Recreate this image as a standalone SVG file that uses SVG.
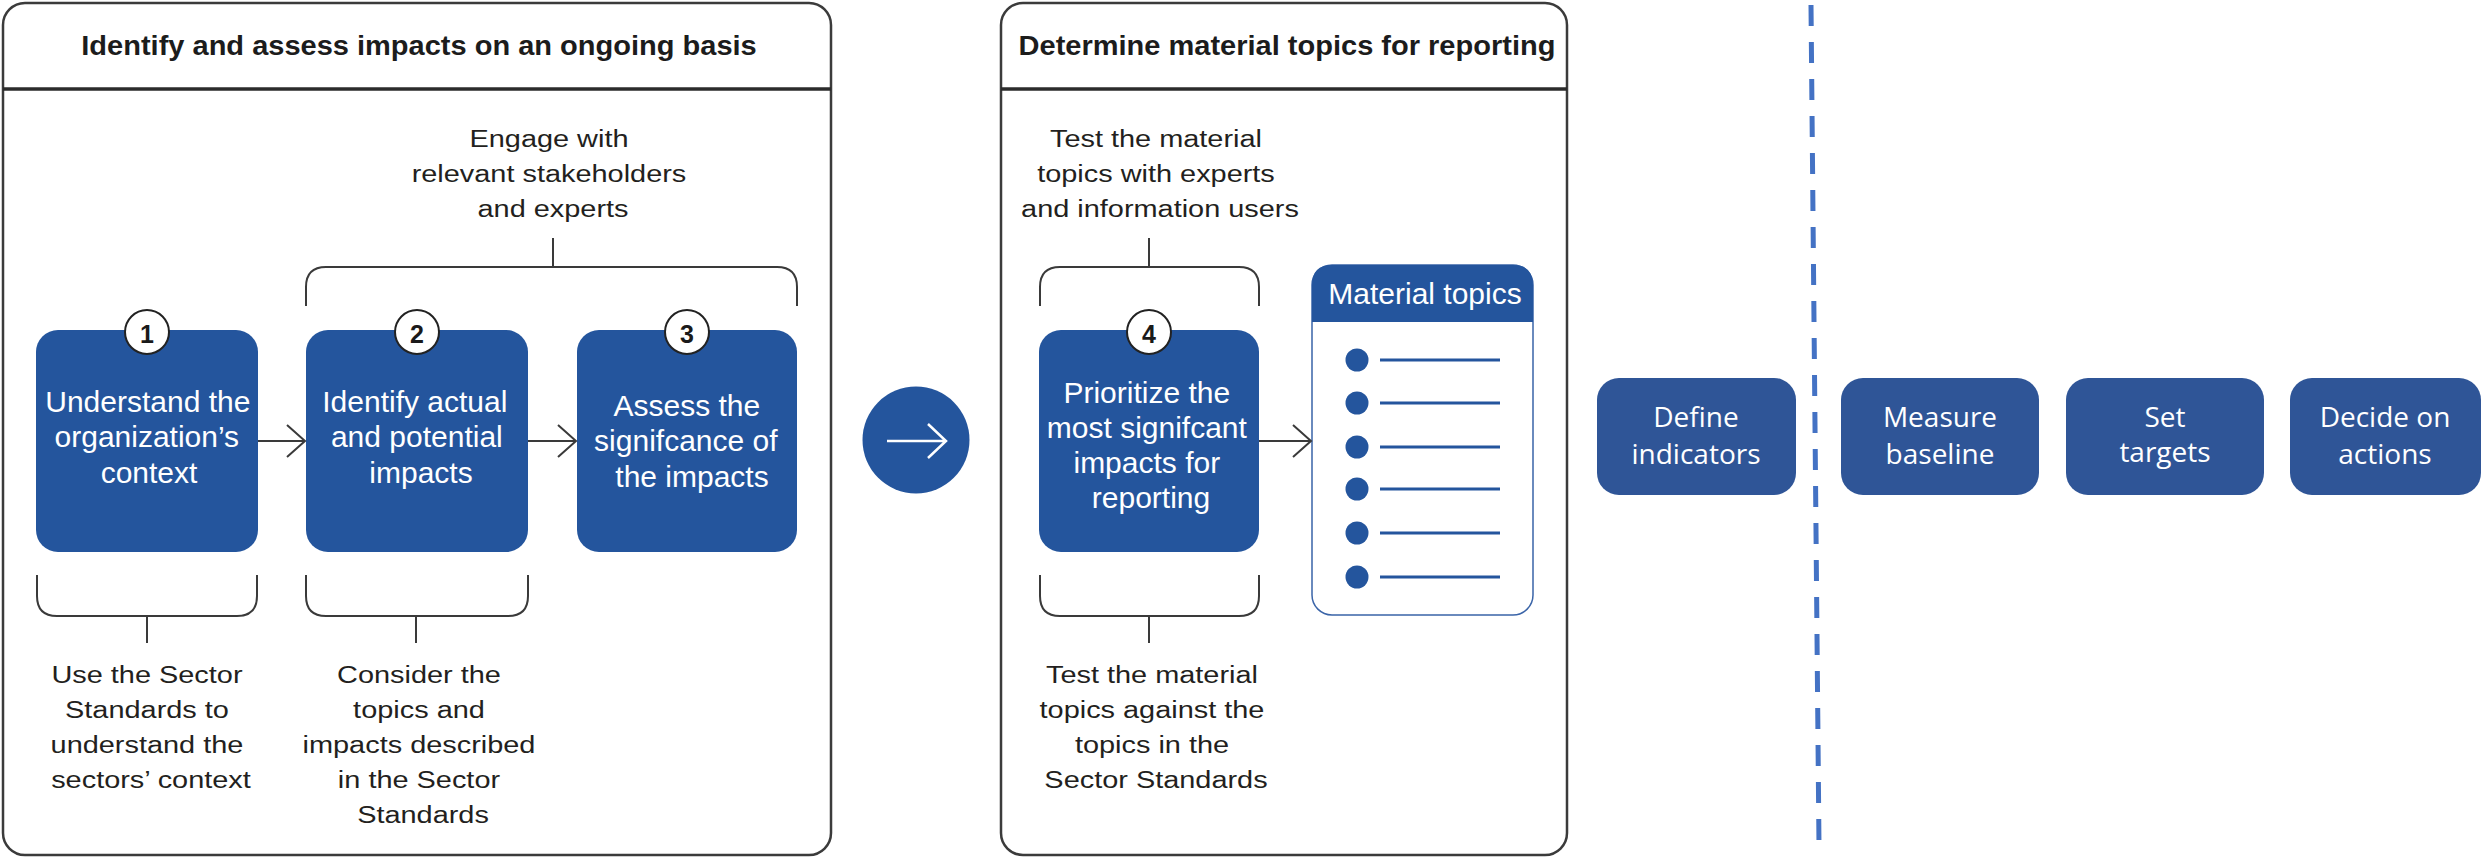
<svg xmlns="http://www.w3.org/2000/svg" width="2483" height="857" viewBox="0 0 2483 857">
  <style>
    .panel { fill: #ffffff; stroke: #3b3b3b; stroke-width: 2.5; }
    .rule { stroke: #2b2b2b; stroke-width: 3.5; }
    .title { font-family: "Liberation Sans", Arial, sans-serif; font-weight: bold; font-size: 27px; fill: #1c1c1c; text-anchor: middle; }
    .cap { font-family: "Liberation Sans", Arial, sans-serif; font-size: 24.5px; fill: #231f20; text-anchor: middle; }
    .step { fill: #24559d; }
    .steptxt { font-family: "Liberation Sans", Arial, sans-serif; font-size: 30px; fill: #ffffff; text-anchor: middle; }
    .num { fill: #ffffff; stroke: #222222; stroke-width: 2; }
    .numtxt { font-family: "Liberation Sans", Arial, sans-serif; font-weight: bold; font-size: 25px; fill: #1a1a1a; text-anchor: middle; }
    .brace { fill: none; stroke: #3a3a3a; stroke-width: 2; }
    .link { fill: none; stroke: #3a3a3a; stroke-width: 2; }
    .bullet { fill: #24559d; }
    .bline { stroke: #24559d; stroke-width: 3; }
    .act { fill: #2f5597; }
    .acttxt { font-family: "Open Sans", "Noto Sans", sans-serif; font-size: 28px; fill: #ffffff; text-anchor: middle; }
  </style>
  <defs>
    <marker id="chev" markerUnits="userSpaceOnUse" markerWidth="24" markerHeight="36" refX="21" refY="18" orient="auto">
      <path d="M3,2 L21,18 L3,34" fill="none" stroke="#3a3a3a" stroke-width="2"/>
    </marker>
  </defs>

  <!-- Panel: identify and assess impacts -->
  <g id="panel-identify">
    <rect class="panel" x="3" y="3" width="828" height="852" rx="22"/>
    <line class="rule" x1="3" y1="89" x2="831" y2="89"/>
    <text class="title" transform="translate(419 55) scale(1.075 1)" x="0" y="0">Identify and assess impacts on an ongoing basis</text>
  </g>

  <!-- Panel: determine material topics -->
  <g id="panel-material">
    <rect class="panel" x="1001" y="3" width="566" height="852" rx="22"/>
    <line class="rule" x1="1001" y1="89" x2="1567" y2="89"/>
    <text class="title" transform="translate(1287 55) scale(1.075 1)" x="0" y="0">Determine material topics for reporting</text>
  </g>

  <!-- Caption: engage stakeholders -->
  <g id="note-engage">
    <text class="cap" transform="translate(553 0) scale(1.18 1)">
      <tspan x="0" y="147">Engage with</tspan>
      <tspan x="0" y="182">relevant stakeholders</tspan>
      <tspan x="0" y="217">and experts</tspan>
    </text>
  </g>

  <!-- Caption: test with experts -->
  <g id="note-test-experts">
    <text class="cap" transform="translate(1160 0) scale(1.18 1)">
      <tspan x="0" y="147">Test the material</tspan>
      <tspan x="0" y="182">topics with experts</tspan>
      <tspan x="0" y="217">and information users</tspan>
    </text>
  </g>

  <!-- Step 1 -->
  <g id="step-1">
    <rect class="step" x="36" y="330" width="222" height="222" rx="22"/>
    <circle class="num" cx="147" cy="332" r="22"/>
    <text class="numtxt" x="147" y="343">1</text>
    <text class="steptxt">
      <tspan x="152" y="412">Understand the</tspan>
      <tspan x="151" y="447">organization’s</tspan>
      <tspan x="149" y="483">context</tspan>
    </text>
  </g>

  <!-- Step 2 -->
  <g id="step-2">
    <rect class="step" x="306" y="330" width="222" height="222" rx="22"/>
    <circle class="num" cx="417" cy="332" r="22"/>
    <text class="numtxt" x="417" y="343">2</text>
    <text class="steptxt">
      <tspan x="419" y="412">Identify actual</tspan>
      <tspan x="421" y="447">and potential</tspan>
      <tspan x="421" y="483">impacts</tspan>
    </text>
  </g>

  <!-- Step 3 -->
  <g id="step-3">
    <rect class="step" x="577" y="330" width="220" height="222" rx="22"/>
    <circle class="num" cx="687" cy="332" r="22"/>
    <text class="numtxt" x="687" y="343">3</text>
    <text class="steptxt">
      <tspan x="691" y="416">Assess the</tspan>
      <tspan x="690" y="451">signifcance of</tspan>
      <tspan x="692" y="487">the impacts</tspan>
    </text>
  </g>

  <!-- Step 4 -->
  <g id="step-4">
    <rect class="step" x="1039" y="330" width="220" height="222" rx="22"/>
    <circle class="num" cx="1149" cy="332" r="22"/>
    <text class="numtxt" x="1149" y="343">4</text>
    <text class="steptxt">
      <tspan x="1151" y="403">Prioritize the</tspan>
      <tspan x="1151" y="438">most signifcant</tspan>
      <tspan x="1151" y="473">impacts for</tspan>
      <tspan x="1151" y="508">reporting</tspan>
    </text>
  </g>

  <!-- Material topics card -->
  <g id="material-topics">
    <rect x="1312" y="265" width="221" height="350" rx="20" fill="#ffffff" stroke="#3a64a8" stroke-width="1.5"/>
    <path d="M1312,322 V285 Q1312,265 1332,265 H1513 Q1533,265 1533,285 V322 Z" fill="#24559d"/>
    <text x="1425" y="304" font-family="Liberation Sans, Arial, sans-serif" font-size="30" fill="#ffffff" text-anchor="middle">Material topics</text>
    <circle class="bullet" cx="1357" cy="360" r="11.5"/>
    <circle class="bullet" cx="1357" cy="403" r="11.5"/>
    <circle class="bullet" cx="1357" cy="447" r="11.5"/>
    <circle class="bullet" cx="1357" cy="489" r="11.5"/>
    <circle class="bullet" cx="1357" cy="533" r="11.5"/>
    <circle class="bullet" cx="1357" cy="577" r="11.5"/>
    <line class="bline" x1="1380" y1="360" x2="1500" y2="360"/>
    <line class="bline" x1="1380" y1="403" x2="1500" y2="403"/>
    <line class="bline" x1="1380" y1="447" x2="1500" y2="447"/>
    <line class="bline" x1="1380" y1="489" x2="1500" y2="489"/>
    <line class="bline" x1="1380" y1="533" x2="1500" y2="533"/>
    <line class="bline" x1="1380" y1="577" x2="1500" y2="577"/>
  </g>

  <!-- Caption: sector context -->
  <g id="note-sector-context">
    <text class="cap" transform="translate(151 0) scale(1.18 1)">
      <tspan x="0" y="683">Use the Sector</tspan>
      <tspan x="0" y="718">Standards to</tspan>
      <tspan x="0" y="753">understand the</tspan>
      <tspan x="0" y="788">sectors’ context</tspan>
    </text>
  </g>

  <!-- Caption: sector topics -->
  <g id="note-sector-topics">
    <text class="cap" transform="translate(423 0) scale(1.18 1)">
      <tspan x="0" y="683">Consider the</tspan>
      <tspan x="0" y="718">topics and</tspan>
      <tspan x="0" y="753">impacts described</tspan>
      <tspan x="0" y="788">in the Sector</tspan>
      <tspan x="0" y="823">Standards</tspan>
    </text>
  </g>

  <!-- Caption: test against sector standards -->
  <g id="note-test-sector">
    <text class="cap" transform="translate(1156 0) scale(1.18 1)">
      <tspan x="0" y="683">Test the material</tspan>
      <tspan x="0" y="718">topics against the</tspan>
      <tspan x="0" y="753">topics in the</tspan>
      <tspan x="0" y="788">Sector Standards</tspan>
    </text>
  </g>

  <!-- Transition marker between panels -->
  <g id="next">
    <circle cx="916" cy="440" r="53.5" fill="#24559d"/>
    <path d="M887,441 H945 M928,424 L946,441 L928,458" fill="none" stroke="#ffffff" stroke-width="2.5"/>
  </g>

  <!-- Follow-up actions -->
  <g id="act-define">
    <rect class="act" x="1597" y="378" width="199" height="117" rx="22"/>
    <text class="acttxt"><tspan x="1696" y="427">Define</tspan><tspan x="1696" y="464">indicators</tspan></text>
  </g>
  <g id="act-measure">
    <rect class="act" x="1841" y="378" width="198" height="117" rx="22"/>
    <text class="acttxt"><tspan x="1940" y="427">Measure</tspan><tspan x="1940" y="464">baseline</tspan></text>
  </g>
  <g id="act-targets">
    <rect class="act" x="2066" y="378" width="198" height="117" rx="22"/>
    <text class="acttxt"><tspan x="2165" y="427">Set</tspan><tspan x="2165" y="462">targets</tspan></text>
  </g>
  <g id="act-decide">
    <rect class="act" x="2290" y="378" width="191" height="117" rx="22"/>
    <text class="acttxt"><tspan x="2385" y="427">Decide on</tspan><tspan x="2385" y="464">actions</tspan></text>
  </g>

  <!-- Connectors, braces and divider -->
  <g id="connectors">
    <path class="link" d="M258,441 H305" marker-end="url(#chev)"/>
    <path class="link" d="M528,441 H576" marker-end="url(#chev)"/>
    <path class="link" d="M1259,441 H1311" marker-end="url(#chev)"/>

    <path class="brace" d="M306,306 V287 Q306,267 326,267 H777 Q797,267 797,287 V306 M553,238 V267"/>
    <path class="brace" d="M1040,306 V287 Q1040,267 1060,267 H1239 Q1259,267 1259,287 V306 M1149,238 V267"/>

    <path class="brace" d="M37,575 V596 Q37,616 57,616 H237 Q257,616 257,596 V575 M147,616 V643"/>
    <path class="brace" d="M306,575 V596 Q306,616 326,616 H508 Q528,616 528,596 V575 M416,616 V643"/>
    <path class="brace" d="M1040,575 V596 Q1040,616 1060,616 H1239 Q1259,616 1259,596 V575 M1149,616 V643"/>

    <line x1="1811" y1="5" x2="1819" y2="845" stroke="#4472c4" stroke-width="5" stroke-dasharray="21 16"/>
  </g>
</svg>
